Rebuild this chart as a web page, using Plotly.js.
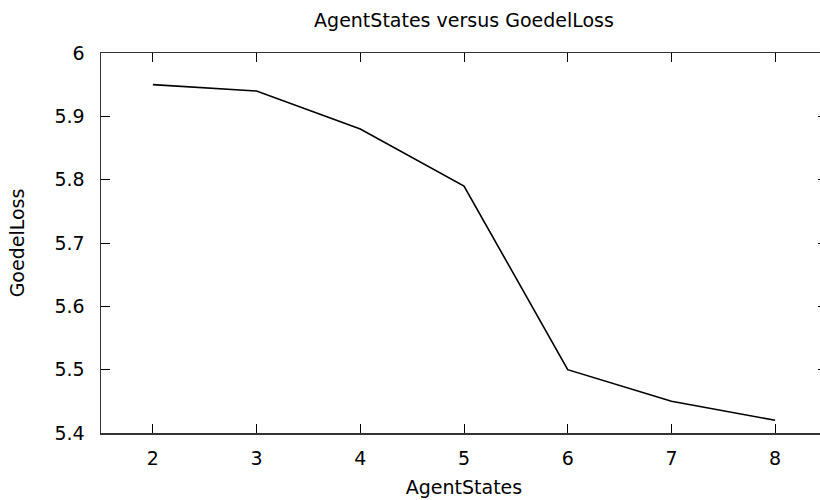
<!DOCTYPE html>
<html>
<head>
<meta charset="utf-8">
<script src="https://cdn.plot.ly/plotly-3.0.1.min.js"></script>
<style>
html,body{margin:0;padding:0;overflow:hidden;width:820px;height:500px;background:#fff;}
#chart{width:827px;height:500px;}
</style>
</head>
<body>
<div id="chart"></div>
<script>
const agentStates = [2, 3, 4, 5, 6, 7, 8];
const goedelLoss = [5.95, 5.94, 5.88, 5.79, 5.50, 5.45, 5.42];
const xTicks = [2, 3, 4, 5, 6, 7, 8];
const yTicks = [5.4, 5.5, 5.6, 5.7, 5.8, 5.9, 6];
const yTickText = ['5.4', '5.5', '5.6', '5.7', '5.8', '5.9', '6'];

const font = 'DejaVu Sans, sans-serif';
const fs = 19;
const trace = {
  x: agentStates, y: goedelLoss, type: 'scatter', mode: 'lines',
  line: {color: '#000', width: 1.6}, hoverinfo: 'none'
};
const layout = {
  width: 827, height: 500,
  margin: {l: 101, r: 0, t: 53, b: 67},
  paper_bgcolor: '#fff', plot_bgcolor: '#fff',
  showlegend: false,
  font: {family: font, color: '#000'},
  title: {text: 'AgentStates versus GoedelLoss', font: {family: font, size: fs, color: '#000'},
          x: 0.5, xref: 'paper', xanchor: 'center', y: 0.96, yref: 'container', yanchor: 'middle'},
  xaxis: {
    range: [1.5, 8.5], tickvals: xTicks, ticktext: xTicks.map(String),
    ticks: 'inside', ticklen: 9, tickwidth: 1, tickcolor: '#000',
    showline: true, linecolor: '#333', linewidth: 1.5, mirror: 'allticks',
    showgrid: false, zeroline: false,
    tickfont: {family: font, size: fs, color: '#000'}, ticklabelstandoff: 8,
    title: {text: 'AgentStates', font: {family: font, size: fs, color: '#000'}, standoff: 12}
  },
  yaxis: {
    range: [5.4, 6], tickvals: yTicks, ticktext: yTickText,
    ticks: 'inside', ticklen: 9, tickwidth: 1, tickcolor: '#000',
    showline: true, linecolor: '#333', linewidth: 1.5, mirror: 'allticks',
    showgrid: false, zeroline: false,
    tickfont: {family: font, size: fs, color: '#000'}, ticklabelstandoff: 11,
    title: {text: 'GoedelLoss', font: {family: font, size: fs, color: '#000'}, standoff: 25}
  }
};
Plotly.newPlot('chart', [trace], layout, {staticPlot: true, displayModeBar: false});
</script>
</body>
</html>
